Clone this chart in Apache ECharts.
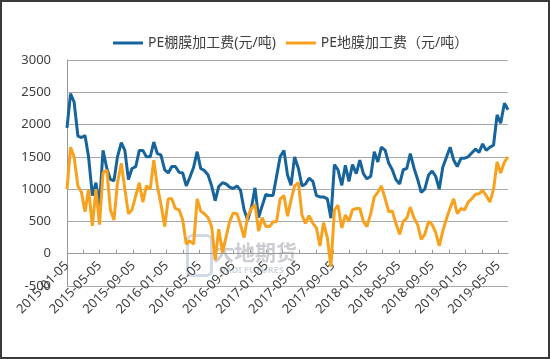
<!DOCTYPE html>
<html>
<head>
<meta charset="utf-8">
<script src="https://cdn.jsdelivr.net/npm/echarts@6/dist/echarts.min.js"></script>
<style>
html,body{margin:0;padding:0;background:#fff;}
#wrap{position:relative;width:550px;height:359px;}
#chart{position:absolute;left:0;top:0;width:550px;height:359px;}
#frame{position:absolute;left:0;top:0;width:550px;height:359px;box-sizing:border-box;border:2px solid #3a3a3a;pointer-events:none;}
</style>
</head>
<body>
<div id="wrap"><div id="chart"></div><div id="frame"></div></div>
<script>
const seriesNames = ['PE棚膜加工费(元/吨)', 'PE地膜加工费（元/吨）'];

const dates = [
'2015-01-05','2015-01-18','2015-01-31','2015-02-14','2015-02-27','2015-03-12','2015-03-25','2015-04-08','2015-04-21','2015-05-04',
'2015-05-17','2015-05-31','2015-06-13','2015-06-26','2015-07-09','2015-07-23','2015-08-05','2015-08-18','2015-08-31','2015-09-14',
'2015-09-27','2015-10-10','2015-10-23','2015-11-06','2015-11-19','2015-12-02','2015-12-15','2015-12-29','2016-01-11','2016-01-24',
'2016-02-06','2016-02-20','2016-03-04','2016-03-17','2016-03-30','2016-04-13','2016-04-26','2016-05-09','2016-05-22','2016-06-05',
'2016-06-18','2016-07-01','2016-07-14','2016-07-28','2016-08-10','2016-08-23','2016-09-05','2016-09-19','2016-10-02','2016-10-15',
'2016-10-28','2016-11-11','2016-11-24','2016-12-07','2016-12-20','2017-01-03','2017-01-16','2017-01-29','2017-02-11','2017-02-24',
'2017-03-10','2017-03-23','2017-04-05','2017-04-18','2017-05-02','2017-05-15','2017-05-28','2017-06-10','2017-06-24','2017-07-07',
'2017-07-20','2017-08-02','2017-08-16','2017-08-29','2017-09-11','2017-09-24','2017-10-08','2017-10-21','2017-11-03','2017-11-16',
'2017-11-30','2017-12-13','2017-12-26','2018-01-08','2018-01-22','2018-02-04','2018-02-17','2018-03-02','2018-03-16','2018-03-29',
'2018-04-11','2018-04-24','2018-05-08','2018-05-21','2018-06-03','2018-06-16','2018-06-30','2018-07-13','2018-07-26','2018-08-08',
'2018-08-22','2018-09-04','2018-09-17','2018-09-30','2018-10-13','2018-10-27','2018-11-09','2018-11-22','2018-12-05','2018-12-19',
'2019-01-01','2019-01-14','2019-01-27','2019-02-10','2019-02-23','2019-03-08','2019-03-21','2019-04-04','2019-04-17','2019-04-30',
'2019-05-13','2019-05-27','2019-06-09'
];

const greenhouseFilm = [
1950,2480,2350,1820,1800,1830,1500,900,1100,750,
1600,1320,1150,1130,1500,1720,1600,1150,1320,1350,
1600,1600,1500,1500,1730,1550,1530,1300,1250,1350,
1350,1260,1250,1050,1180,1340,1580,1320,1290,1220,
1050,820,1040,1100,1080,1030,1010,1050,980,680,
520,720,1020,560,740,920,900,900,1200,1500,
1600,1220,1060,1500,1320,1050,1080,1170,1120,900,
880,880,850,550,1380,1300,1060,1370,1120,1380,
1240,1450,1240,1160,1200,1580,1420,1650,1600,1400,
1300,1150,1080,1300,1320,1550,1320,1150,950,1000,
1220,1280,1200,1000,1340,1500,1650,1450,1350,1480,
1480,1500,1560,1620,1570,1700,1600,1650,1680,2150,
2020,2330,2230
];

const mulchFilm = [
1000,1650,1500,1050,950,650,1000,430,1000,450,
1250,1300,680,520,1100,1400,1000,620,680,900,
1100,800,1050,1000,1450,1050,770,420,850,850,
700,680,520,150,200,150,850,660,620,560,
420,-100,380,20,260,500,630,620,450,250,
580,700,760,350,560,420,420,490,500,850,
900,580,830,1050,1100,600,470,590,470,400,
120,480,250,-200,680,750,400,600,500,680,
700,700,500,420,620,880,950,1050,850,650,
660,470,300,500,550,720,550,450,220,300,
500,450,330,120,350,550,710,850,620,700,
680,800,850,920,930,980,900,800,1000,1420,
1250,1420,1500
];

const labelDates = [
'2015-01-05','2015-05-05','2015-09-05','2016-01-05','2016-05-05','2016-09-05','2017-01-05',
'2017-05-05','2017-09-05','2018-01-05','2018-05-05','2018-09-05','2019-01-05','2019-05-05'
];
const tickDates = [
'2015-01-05','2015-03-05','2015-05-05','2015-07-05','2015-09-05','2015-11-05',
'2016-01-05','2016-03-05','2016-05-05','2016-07-05','2016-09-05','2016-11-05',
'2017-01-05','2017-03-05','2017-05-05','2017-07-05','2017-09-05','2017-11-05',
'2018-01-05','2018-03-05','2018-05-05','2018-07-05','2018-09-05','2018-11-05',
'2019-01-05','2019-03-05','2019-05-05'
];
const axisMin = '2015-01-05';
const axisMax = '2019-06-09';
const yMin = -500, yMax = 3000, yStep = 500;

function ts(s){ const p = s.split('-'); return new Date(+p[0], +p[1]-1, +p[2]).getTime(); }
function pad(n){ return (n<10?'0':'')+n; }
function fmt(v){ const d = new Date(v); return d.getFullYear()+'-'+pad(d.getMonth()+1)+'-'+pad(d.getDate()); }

const chart = echarts.init(document.getElementById('chart'), null, {renderer:'canvas'});
const FONT = '"Noto Sans", "Noto Sans CJK SC", sans-serif';

const gridTop = 60, gridBottom = 73, H = 359;
const plotH = H - gridTop - gridBottom;
const zeroOffset = -plotH * (0 - yMin) / (yMax - yMin);

chart.setOption({
  animation: false,
  backgroundColor: '#ffffff',
  textStyle: { fontFamily: FONT },
  legend: {
    top: 31, left: 108,
    icon: 'rect', itemWidth: 30, itemHeight: 3, itemGap: 10,
    textStyle: { fontSize: 14, color: '#404040', fontFamily: FONT },
    data: seriesNames
  },
  grid: { left: 67, right: 42, top: gridTop, bottom: gridBottom, containLabel: false },
  xAxis: {
    type: 'value',
    min: ts(axisMin), max: ts(axisMax),
    position: 'bottom',
    offset: zeroOffset,
    axisLine: { show: true, onZero: false, lineStyle: { color: '#9a9a9a', width: 1 } },
    axisTick: { show: true, inside: true, length: 4, lineStyle: { color: '#9a9a9a' }, customValues: tickDates.map(ts) },
    axisLabel: {
      rotate: 45, margin: 10, fontSize: 13, color: '#404040', fontFamily: FONT,
      customValues: labelDates.map(ts),
      formatter: function(v){ return fmt(v); }
    },
    splitLine: { show: false }
  },
  yAxis: {
    type: 'value', min: yMin, max: yMax, interval: yStep,
    axisLine: { show: true, onZero: false, lineStyle: { color: '#9a9a9a', width: 1 } },
    axisTick: { show: false },
    axisLabel: { fontSize: 13, color: '#404040', margin: 16, fontFamily: FONT, formatter: function(v){ return String(v); } },
    splitLine: { show: true, lineStyle: { color: '#a8a8a8', width: 1 } }
  },
  graphic: [
    { type: 'rect', z: 0, left: 186, top: 234, shape: { width: 24, height: 40, r: 5 },
      style: { fill: 'rgba(0,0,0,0)', stroke: 'rgba(150,170,200,0.45)', lineWidth: 3 }, silent: true },
    { type: 'text', z: 0, left: 213, top: 242,
      style: { text: '大地期货', fontSize: 21, fontWeight: 'bold', fill: 'rgba(140,145,155,0.45)', fontFamily: '"Noto Sans CJK SC", sans-serif' }, silent: true },
    { type: 'text', z: 0, left: 219, top: 266,
      style: { text: 'DADI FUTURES', fontSize: 9, fontWeight: 'bold', fill: 'rgba(150,165,185,0.45)', fontFamily: FONT }, silent: true }
  ],
  series: [
    {
      name: seriesNames[0], type: 'line', showSymbol: false, symbol: 'none',
      data: dates.map((d,i)=>[ts(d), greenhouseFilm[i]]),
      lineStyle: { color: '#17649c', width: 3 }, itemStyle: { color: '#17649c' }, z: 3
    },
    {
      name: seriesNames[1], type: 'line', showSymbol: false, symbol: 'none',
      data: dates.map((d,i)=>[ts(d), mulchFilm[i]]),
      lineStyle: { color: '#f7a11c', width: 3 }, itemStyle: { color: '#f7a11c' }, z: 4
    }
  ]
});
</script>
</body>
</html>
